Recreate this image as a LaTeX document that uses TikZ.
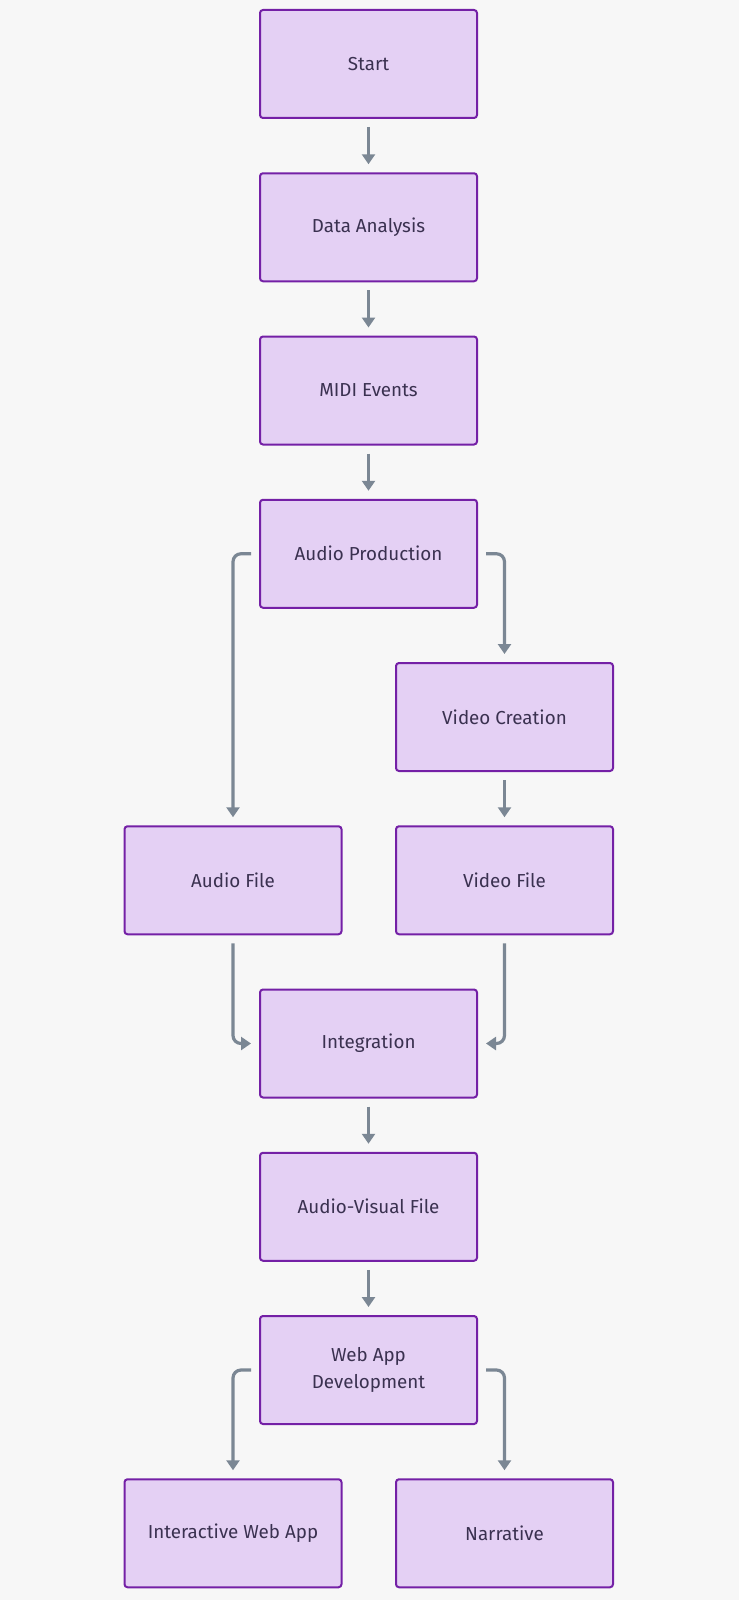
\documentclass[tikz,border=0pt]{standalone}
\usepackage{fontspec}
\setmainfont{Fira Sans}
\usetikzlibrary{arrows.meta}
\definecolor{bg}{HTML}{F7F7F7}
\definecolor{boxfill}{HTML}{E4D0F4}
\definecolor{boxline}{HTML}{7420A6}
\definecolor{txt}{HTML}{3A3150}
\definecolor{arr}{HTML}{7B8794}
\tikzset{
  box/.style={draw=boxline, fill=boxfill, line width=2pt, rounded corners=3pt,
    minimum width=217pt, minimum height=108pt, inner sep=0pt, align=center,
    text=txt, font=\fontsize{18.8}{27.5}\selectfont},
  link/.style={draw=arr, line width=3.2pt, rounded corners=8pt,
    -{Triangle[width=13pt,length=10pt]}}
}
\begin{document}
\begin{tikzpicture}[x=1pt,y=-1pt]
\fill[bg] (0,0) rectangle (739,1600);
\useasboundingbox (0,0) rectangle (739,1600);
\def\cx{368.5}
\def\lx{233}
\def\rx{504.5}
\node[box] (start) at (\cx,64) {Start};
\node[box] (da) at (\cx,227.25) {Data Analysis};
\node[box] (midi) at (\cx,390.5) {MIDI Events};
\node[box] (ap) at (\cx,553.75) {Audio Production};
\node[box] (vc) at (\rx,717) {Video Creation};
\node[box] (af) at (\lx,880.25) {Audio File};
\node[box] (vf) at (\rx,880.25) {Video File};
\node[box] (int) at (\cx,1043.5) {Integration};
\node[box] (av) at (\cx,1206.75) {Audio-Visual File};
\node[box] (web) at (\cx,1370) {Web App\\Development};
\node[box] (iwa) at (\lx,1533.25) {Interactive Web App};
\node[box] (nar) at (\rx,1533.25) {Narrative};
\draw[link] ([yshift=-8pt]start.south) -- ([yshift=8pt]da.north);
\draw[link] ([yshift=-8pt]da.south) -- ([yshift=8pt]midi.north);
\draw[link] ([yshift=-8pt]midi.south) -- ([yshift=8pt]ap.north);
\draw[link] ([xshift=-8pt]ap.west) -| ([yshift=8pt]af.north);
\draw[link] ([xshift=8pt]ap.east) -| ([yshift=8pt]vc.north);
\draw[link] ([yshift=-8pt]vc.south) -- ([yshift=8pt]vf.north);
\draw[link] ([yshift=-8pt]af.south) |- ([xshift=-8pt]int.west);
\draw[link] ([yshift=-8pt]vf.south) |- ([xshift=8pt]int.east);
\draw[link] ([yshift=-8pt]int.south) -- ([yshift=8pt]av.north);
\draw[link] ([yshift=-8pt]av.south) -- ([yshift=8pt]web.north);
\draw[link] ([xshift=-8pt]web.west) -| ([yshift=8pt]iwa.north);
\draw[link] ([xshift=8pt]web.east) -| ([yshift=8pt]nar.north);
\end{tikzpicture}
\end{document}
